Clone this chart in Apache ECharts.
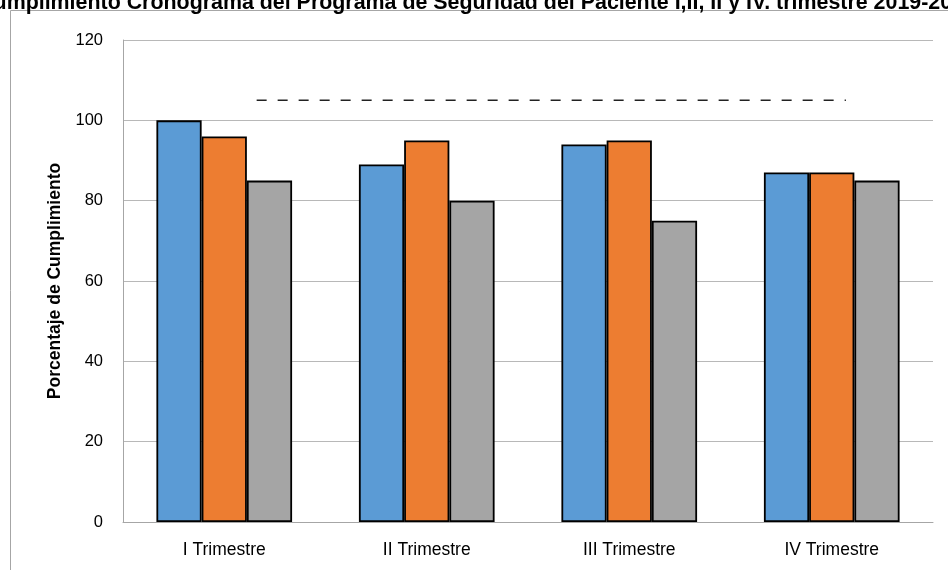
<!DOCTYPE html>
<html>
<head>
<meta charset="utf-8">
<script src="https://cdn.jsdelivr.net/npm/echarts@6/dist/echarts.min.js"></script>
<style>
  html, body { margin: 0; padding: 0; background: #fff; }
  #chart { width: 948px; height: 570px; }
</style>
</head>
<body>
<div id="chart"></div>
<script>
// Trimestres evaluados
const categories = ['I Trimestre', 'II Trimestre', 'III Trimestre', 'IV Trimestre'];
// Porcentaje de cumplimiento por serie
const serieAzul = [100, 89, 94, 87];
const serieNaranja = [96, 95, 95, 87];
const serieGris = [85, 80, 75, 85];
// Línea de meta (discontinua)
const metaValor = 105;
const metaDesde = 0.66;   // posición en unidades de categoría
const metaHasta = 3.57;
const yTicks = { min: 0, max: 120, interval: 20 };

const FONT = '"Liberation Sans", Arial, sans-serif';

const chart = echarts.init(document.getElementById('chart'), null, { renderer: 'canvas' });

const barStyle = (color) => ({ color: color, borderColor: '#000', borderWidth: 1.8 });

chart.setOption({
  animation: false,
  backgroundColor: '#fff',
  textStyle: { fontFamily: FONT },
  title: {
    text: 'Cumplimiento Cronograma del Programa de Seguridad del Paciente I,II, II y IV. trimestre 2019-2020',
    left: 472,
    textAlign: 'center',
    top: -12,
    textStyle: { fontSize: 21.4, fontWeight: 'bold', color: '#000', fontFamily: FONT }
  },
  graphic: [{
    type: 'rect',
    shape: { x: 10.5, y: 10.5, width: 1000, height: 700 },
    style: { fill: 'none', stroke: '#a6a6a6', lineWidth: 1 },
    silent: true,
    z: -1
  }],
  grid: { left: 123, right: 15, top: 40, bottom: 48, containLabel: false },
  xAxis: [{
    type: 'category',
    data: categories,
    axisLine: { lineStyle: { color: '#a6a6a6', width: 1 } },
    axisTick: { show: false },
    axisLabel: { color: '#000', fontSize: 17.5, margin: 19, fontFamily: FONT }
  }, {
    type: 'value',
    min: 0,
    max: 4,
    show: false
  }],
  yAxis: {
    type: 'value',
    min: yTicks.min,
    max: yTicks.max,
    interval: yTicks.interval,
    name: 'Porcentaje de Cumplimiento',
    nameLocation: 'middle',
    nameGap: 53,
    nameTextStyle: { fontSize: 17.5, fontWeight: 'bold', color: '#000', fontFamily: FONT },
    axisLine: { show: true, lineStyle: { color: '#a6a6a6', width: 1 } },
    axisTick: { show: false },
    axisLabel: { color: '#000', fontSize: 16.5, margin: 20, fontFamily: FONT },
    splitLine: { lineStyle: { color: '#b8b8b8', width: 1 } }
  },
  series: [
    { name: 'Serie 1', type: 'bar', data: serieAzul, barGap: '0%', barCategoryGap: '33%', itemStyle: barStyle('#5B9BD5') },
    { name: 'Serie 2', type: 'bar', data: serieNaranja, itemStyle: barStyle('#ED7D31') },
    { name: 'Serie 3', type: 'bar', data: serieGris, itemStyle: barStyle('#A5A5A5') },
    {
      name: 'Meta',
      type: 'line',
      xAxisIndex: 1,
      data: [[metaDesde, metaValor], [metaHasta, metaValor]],
      symbol: 'none',
      lineStyle: { color: '#222', width: 1.5, type: [10, 11] },
      z: 5
    }
  ]
});
</script>
</body>
</html>
